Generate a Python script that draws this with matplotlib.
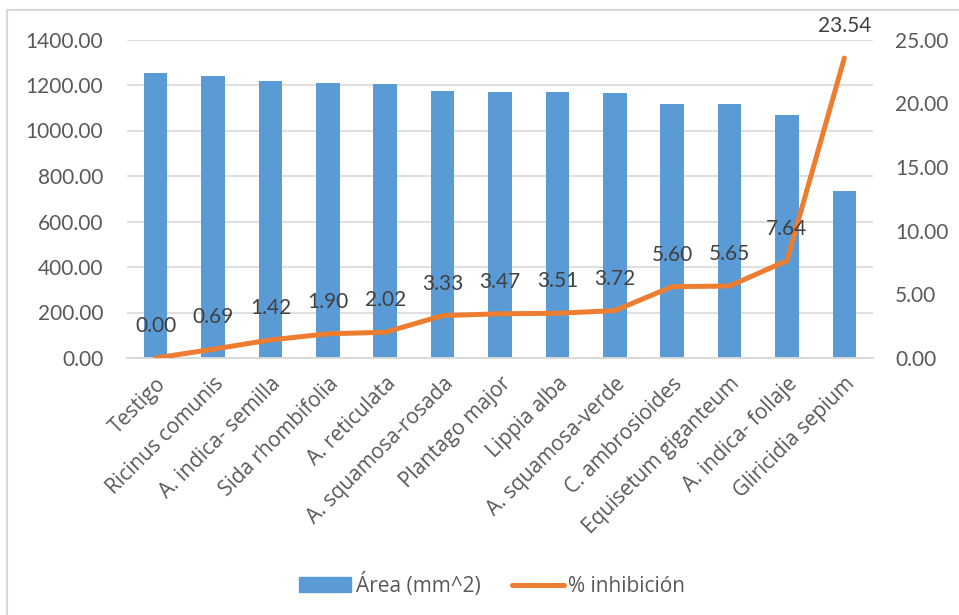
import numpy as np
import matplotlib
matplotlib.use("Agg")
import matplotlib.pyplot as plt
from matplotlib.patches import Rectangle, Patch
from matplotlib.lines import Line2D

plt.rcParams['font.family'] = ['Lato', 'DejaVu Sans']

categorias = ["Testigo", "Ricinus comunis", "A. indica- semilla", "Sida rhombifolia",
              "A. reticulata", "A. squamosa-rosada", "Plantago major", "Lippia alba",
              "A. squamosa-verde", "C. ambrosioides", "Equisetum giganteum",
              "A. indica- follaje", "Gliricidia sepium"]
area = [1254, 1240, 1219, 1209, 1206, 1174, 1171, 1168, 1163, 1118, 1115, 1068, 735]
inhibicion = [0.00, 0.69, 1.42, 1.90, 2.02, 3.33, 3.47, 3.51, 3.72, 5.60, 5.65, 7.64, 23.54]
ticks_area = np.arange(0, 1401, 200)
ticks_inh = np.arange(0, 26, 5)

azul = "#5B9BD5"
naranja = "#ED7D31"
gris_txt = "#595959"
gris_lin = "#D9D9D9"
fuente_cat = ['Open Sans', 'DejaVu Sans']

W, H = 959, 615
fig = plt.figure(figsize=(W / 100, H / 100), dpi=100)
ax = fig.add_axes([127 / W, 1 - 358 / H, (873 - 127) / W, (358 - 39.5) / H])
ax2 = ax.twinx()

x = np.arange(len(categorias))
ax.bar(x, area, width=0.41, color=azul, zorder=2)
ax.set_xlim(-0.5, len(categorias) - 0.5)
ax.set_ylim(0, 1400)
ax.set_yticks(ticks_area)
ax.set_yticklabels([f"{v:.2f}" for v in ticks_area])
ax.grid(axis='y', color=gris_lin, lw=1.2, zorder=0)
ax.set_axisbelow(True)

ax2.plot(x, inhibicion, color=naranja, lw=3.6, solid_capstyle='round', zorder=3)
ax2.set_ylim(0, 25)
ax2.set_yticks(ticks_inh)
ax2.set_yticklabels([f"{v:.2f}" for v in ticks_inh])
for xi, v in zip(x, inhibicion):
    ax2.annotate(f"{v:.2f}", (xi, v), xytext=(0, 23), textcoords='offset points',
                 ha='center', va='center', fontsize=15, color="#404040")

for a in (ax, ax2):
    for s in ('top', 'left', 'right'):
        a.spines[s].set_visible(False)
    a.spines['bottom'].set_color(gris_lin)
    a.spines['bottom'].set_linewidth(1.2)
    a.tick_params(axis='y', length=0, labelsize=15, labelcolor=gris_txt)
ax.tick_params(axis='y', pad=17)
ax2.tick_params(axis='y', pad=16)

ax.set_xticks(x)
ax.set_xticklabels(categorias, rotation=45, ha='right', rotation_mode='anchor',
                   fontsize=15, color=gris_txt, family=fuente_cat)
ax.tick_params(axis='x', length=0, pad=11)

handles = [Patch(color=azul), Line2D([], [], color=naranja, lw=3.6, solid_capstyle='round')]
fig.legend(handles, ["Área (mm^2)", "% inhibición"], loc='center', ncol=2,
           bbox_to_anchor=(492 / W, 1 - 585 / H), frameon=False,
           labelcolor=gris_txt, handlelength=2.5, handleheight=0.7, columnspacing=1.5,
           handletextpad=0.2, prop={'family': fuente_cat, 'size': 15})

fig.add_artist(Rectangle((7 / W, -0.05), 1.2, 1 - 10 / H + 0.05, transform=fig.transFigure,
                         fill=False, edgecolor=gris_lin, lw=1.5))

fig.savefig("out.png", dpi=100, facecolor='white')
